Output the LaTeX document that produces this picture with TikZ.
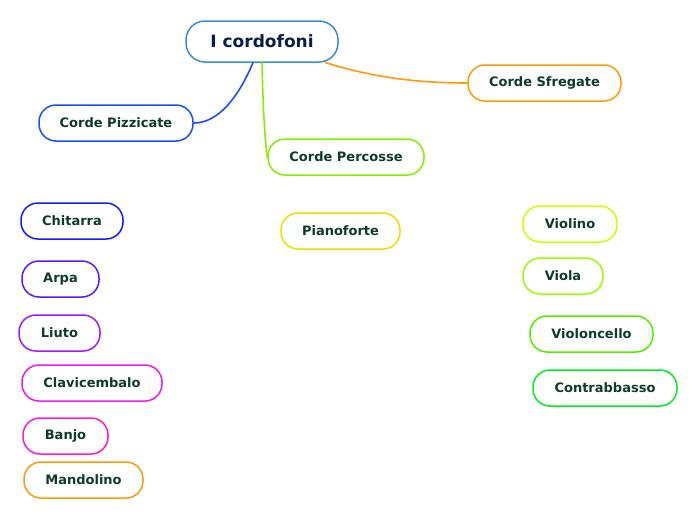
\documentclass[tikz,border=0pt]{standalone}
\usepackage{fontspec}
\setmainfont{DejaVu Sans}
\begin{document}
\begin{tikzpicture}[x=1pt,y=-1pt,
  box/.style={draw, line width=1.5pt, rounded corners=17pt, minimum height=36pt, inner sep=0pt,
    font=\bfseries\fontsize{13}{15}\selectfont, text=txt, fill=white},
  conn/.style={line width=1.6pt, line cap=round}]
\definecolor{txt}{HTML}{0D3B2E}
\definecolor{rootc}{HTML}{3A8FD0}
\definecolor{navy}{HTML}{0A1E4A}
\definecolor{orangec}{HTML}{FF9A0A}
\definecolor{bluec}{HTML}{1A4FFF}
\definecolor{percc}{HTML}{88EE00}
\definecolor{chit}{HTML}{1A1AFF}
\definecolor{arpa}{HTML}{5A1AFF}
\definecolor{liuto}{HTML}{A01AFF}
\definecolor{clav}{HTML}{EE1AEE}
\definecolor{banjo}{HTML}{FF1ACC}
\definecolor{piano}{HTML}{F0DC00}
\definecolor{violino}{HTML}{CCFF00}
\definecolor{viola}{HTML}{99FF00}
\definecolor{vcello}{HTML}{55EE00}
\definecolor{cbasso}{HTML}{00EE22}
\useasboundingbox (0,0) rectangle (696,520);
% nodes
\node[box, draw=rootc, minimum width=152pt, minimum height=41pt, text=navy, rounded corners=19pt,
  font=\bfseries\fontsize{17}{20}\selectfont] (root) at (262,41.5) {I cordofoni};
\node[box, draw=orangec, minimum width=153pt] (sfr) at (544.5,83) {Corde Sfregate};
\node[box, draw=bluec, minimum width=154pt] (pizz) at (116,123) {Corde Pizzicate};
\node[box, draw=percc, minimum width=156pt] (perc) at (346,157) {Corde Percosse};
\node[box, draw=chit, minimum width=102pt] (chitarra) at (72,221) {Chitarra};
\node[box, draw=arpa, minimum width=77pt] (arpa) at (60.5,279) {Arpa};
\node[box, draw=liuto, minimum width=81pt] (liuto) at (59.5,333) {Liuto};
\node[box, draw=clav, minimum width=140pt] (clav) at (92,383) {Clavicembalo};
\node[box, draw=banjo, minimum width=85pt] (banjo) at (65.5,436) {Banjo};
\node[box, draw=orangec, minimum width=119pt] (mand) at (83.5,480) {Mandolino};
\node[box, draw=piano, minimum width=119pt] (piano) at (340.5,231) {Pianoforte};
\node[box, draw=violino, minimum width=94pt] (violino) at (570,224) {Violino};
\node[box, draw=viola, minimum width=80pt] (viola) at (563,276) {Viola};
\node[box, draw=vcello, minimum width=123pt] (vcello) at (591.5,334) {Violoncello};
\node[box, draw=cbasso, minimum width=144pt] (cbasso) at (605,388) {Contrabbasso};
% connectors
\draw[conn, orangec] ([xshift=-13pt]root.south east) .. controls (375,78) and (420,83) .. (sfr.west);
\draw[conn, bluec] ([xshift=-9pt]root.south) .. controls (238,98) and (218,123) .. (pizz.east);
\draw[conn, percc] (root.south) .. controls (263,110) and (265,140) .. (perc.west);
\end{tikzpicture}
\end{document}
